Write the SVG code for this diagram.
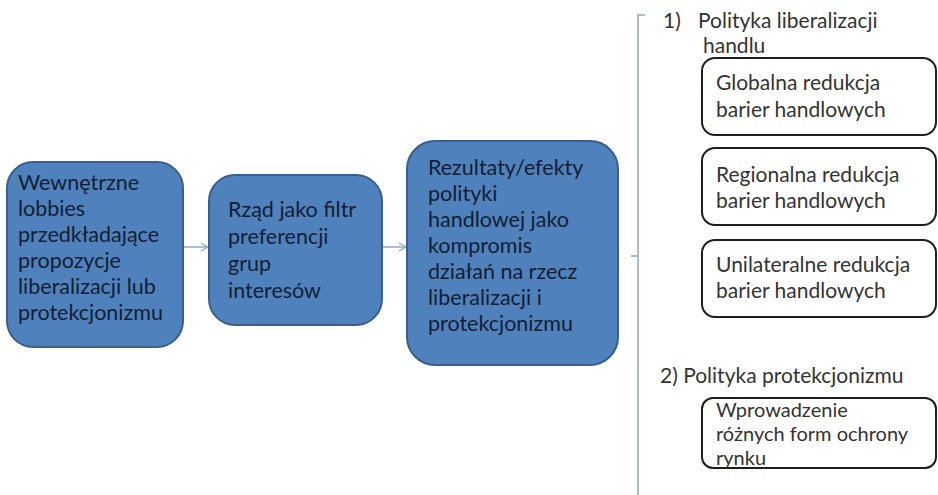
<svg xmlns="http://www.w3.org/2000/svg" width="938" height="495" viewBox="0 0 938 495">
<defs>
<marker id="chev" markerWidth="10" markerHeight="10" refX="8" refY="5" orient="auto" markerUnits="userSpaceOnUse">
<path d="M1,1 L8,5 L1,9" fill="none" stroke="#8fa6c6" stroke-width="1.3"/>
</marker>
<style>
.blue{fill:#4f81bd;stroke:#3a5f8c;stroke-width:2}
.wbox{fill:#ffffff;stroke:#1e1e1e;stroke-width:2}
.bt{font-family:Lato,"Liberation Sans",sans-serif;font-size:21.5px;fill:#0f1e33}
.wt{font-family:Lato,"Liberation Sans",sans-serif;font-size:21px;fill:#333333}
.wt2{font-family:Lato,"Liberation Sans",sans-serif;font-size:20px;fill:#333333}
.con{stroke:#8fa6c6;stroke-width:1.5;fill:none}
.brk{stroke:#a9bcd6;stroke-width:2;fill:none}
</style>
</defs>
<rect width="938" height="495" fill="#ffffff"/>

<g id="connectors">
<line class="con" x1="184" y1="247" x2="208" y2="247" marker-end="url(#chev)"/>
<line class="con" x1="383" y1="247" x2="406" y2="247" marker-end="url(#chev)"/>
<path class="brk" d="M645,15 L638,15 L638,495"/>
<line class="brk" x1="631" y1="256" x2="638" y2="256"/>
</g>

<g id="lobbies">
<rect class="blue" x="7" y="162" width="176" height="185" rx="26"/>
<text class="bt"><tspan x="18" y="190">Wewnętrzne</tspan><tspan x="18" y="216">lobbies</tspan><tspan x="18" y="242">przedkładające</tspan><tspan x="18" y="268">propozycje</tspan><tspan x="18" y="294">liberalizacji lub</tspan><tspan x="18" y="320">protekcjonizmu</tspan></text>
</g>

<g id="rzad">
<rect class="blue" x="209" y="175" width="173" height="150" rx="26"/>
<text class="bt"><tspan x="228" y="217">Rząd jako filtr</tspan><tspan x="228" y="244">preferencji</tspan><tspan x="228" y="271">grup</tspan><tspan x="228" y="298">interesów</tspan></text>
</g>

<g id="rezultaty">
<rect class="blue" x="407" y="141" width="211" height="224" rx="28"/>
<text class="bt"><tspan x="428" y="175">Rezultaty/efekty</tspan><tspan x="428" y="201">polityki</tspan><tspan x="428" y="227">handlowej jako</tspan><tspan x="428" y="253">kompromis</tspan><tspan x="428" y="279">działań na rzecz</tspan><tspan x="428" y="305">liberalizacji i</tspan><tspan x="428" y="331">protekcjonizmu</tspan></text>
</g>

<g id="heading1">
<text class="wt"><tspan x="663" y="28">1)</tspan><tspan x="698" y="28">Polityka liberalizacji</tspan><tspan x="703" y="53">handlu</tspan></text>
</g>

<g id="globalna">
<rect class="wbox" x="702" y="58" width="234" height="77" rx="13"/>
<text class="wt"><tspan x="716" y="90">Globalna redukcja</tspan><tspan x="716" y="117">barier handlowych</tspan></text>
</g>

<g id="regionalna">
<rect class="wbox" x="702" y="148" width="234" height="77" rx="13"/>
<text class="wt"><tspan x="716" y="182">Regionalna redukcja</tspan><tspan x="716" y="208">barier handlowych</tspan></text>
</g>

<g id="unilateralne">
<rect class="wbox" x="702" y="240" width="234" height="77" rx="13"/>
<text class="wt"><tspan x="716" y="272">Unilateralne redukcja</tspan><tspan x="716" y="298">barier handlowych</tspan></text>
</g>

<g id="heading2">
<text class="wt" x="660" y="383">2) Polityka protekcjonizmu</text>
</g>

<g id="wprowadzenie">
<rect class="wbox" x="702" y="398" width="234" height="70" rx="11"/>
<text class="wt2"><tspan x="716" y="417">Wprowadzenie</tspan><tspan x="716" y="441">różnych form ochrony</tspan><tspan x="716" y="465">rynku</tspan></text>
</g>
</svg>
